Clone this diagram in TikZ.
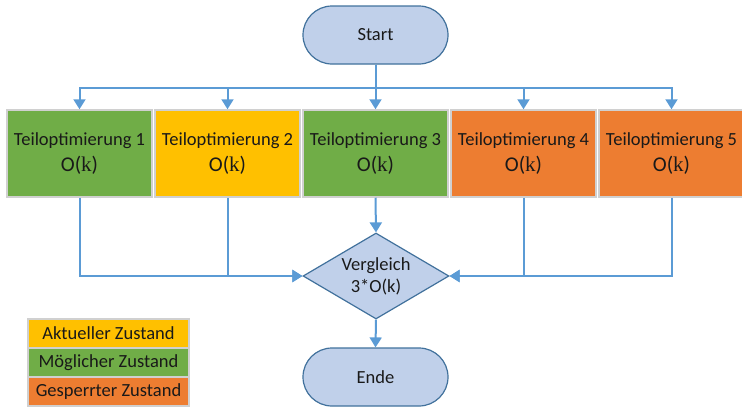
\documentclass[tikz,border=0pt]{standalone}
\usepackage{fontspec}
\setmainfont{Carlito}
\newfontfamily\kfont{Liberation Serif}
\usetikzlibrary{arrows.meta}
\usetikzlibrary{shapes.geometric}
\usetikzlibrary{positioning}
\definecolor{lineblue}{HTML}{5B9BD5}
\definecolor{termfill}{HTML}{C0D0EA}
\definecolor{termdraw}{HTML}{41719C}
\definecolor{boxgray}{HTML}{D0D0D0}
\definecolor{okgreen}{HTML}{70AD47}
\definecolor{curyellow}{HTML}{FFC000}
\definecolor{lockorange}{HTML}{ED7D31}

\begin{document}
\begin{tikzpicture}[x=1pt, y=-1pt,
every node/.style={font=\fontsize{18.5}{22}\selectfont, text=black!90},
term/.style={draw=termdraw, fill=termfill, line width=1.2pt,
rounded corners=29pt, minimum width=145pt, minimum height=58pt},
task/.style={draw=boxgray, line width=1.5pt, minimum width=145pt,
minimum height=87pt, align=center},
legend/.style={draw=boxgray, line width=1.2pt, minimum width=161pt,
minimum height=29pt, outer sep=0pt},
arr/.style={draw=lineblue, line width=2pt,
-{Triangle[length=10pt, width=12pt]}}]
\useasboundingbox (0,0) rectangle (742,408);
\node[term] (start) at (375.5,35) {Start};
\coordinate (split) at (375.5,88);
\foreach \i/\c in {1/okgreen, 2/curyellow, 3/okgreen, 4/lockorange, 5/lockorange}{
\node[task, fill=\c] (\i) at (\i*148-68.5,153.5)
{Teiloptimierung \i\\[4pt]{\fontsize{21}{24}\selectfont O({\kfont k})}};}
\node[draw=termdraw, fill=termfill, line width=1.2pt, diamond, aspect=1.7,
inner sep=1pt, minimum width=146pt, minimum height=86pt, align=center]
(cmp) at (376,276) {Vergleich\\3*O(k)};
\node[term] (end) at (375.5,377) {Ende};
% Legende
\node[legend, fill=curyellow] (akt) at (108.5,333.5) {Aktueller Zustand};
\node[legend, fill=okgreen, below=0pt of akt] (mog) {Möglicher Zustand};
\node[legend, fill=lockorange, below=0pt of mog] (ges) {Gesperrter Zustand};
\foreach \i in {1, 2, ..., 5}{
\draw[arr] (start.south) -- (split) -| (\i.north);}
\draw[arr] (1.south) |- (cmp.west);
\draw[arr] (2.south) |- (cmp.west);
\draw[arr] (3.south) -- (cmp.north);
\draw[arr] (4.south) |- (cmp.east);
\draw[arr] (5.south) |- (cmp.east);
\draw[arr] (cmp.south) -- (end.north);
\end{tikzpicture}
\end{document}
